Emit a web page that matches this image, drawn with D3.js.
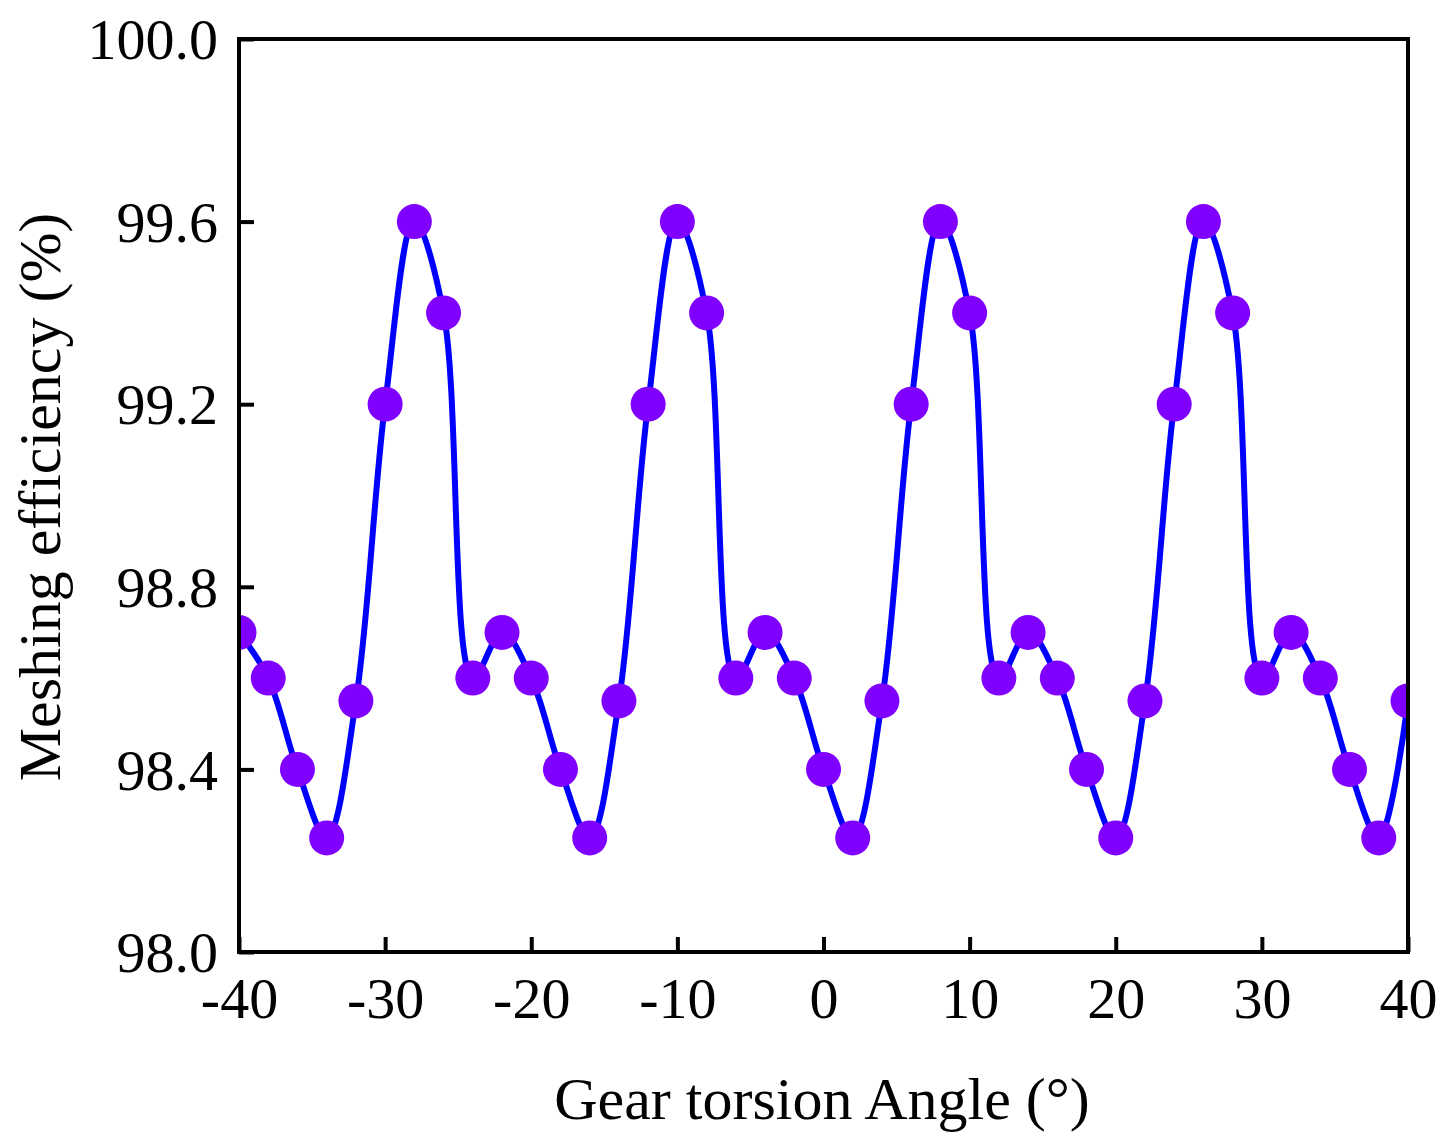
<!DOCTYPE html>
<html><head><meta charset="utf-8">
<script src="https://cdn.jsdelivr.net/npm/d3@7"></script>
<style>body{margin:0;background:#fff}svg{display:block}</style>
</head><body>
<svg id="c" width="1455" height="1132"></svg>
<script>
const angles = [-40,-38,-36,-34,-32,-30,-28,-26,-24,-22,-20,-18,-16,-14,-12,-10,-8,-6,-4,-2,0,2,4,6,8,10,12,14,16,18,20,22,24,26,28,30,32,34,36,38,40];
const efficiency = [98.7,98.6,98.4,98.25,98.55,99.2,99.6,99.4,98.6,98.7,98.6,98.4,98.25,98.55,99.2,99.6,99.4,98.6,98.7,98.6,98.4,98.25,98.55,99.2,99.6,99.4,98.6,98.7,98.6,98.4,98.25,98.55,99.2,99.6,99.4,98.6,98.7,98.6,98.4,98.25,98.55];
const xTicks = [-40,-30,-20,-10,0,10,20,30,40];
const xTickLabels = ["-40","-30","-20","-10","0","10","20","30","40"];
const yTicks = [98.0,98.4,98.8,99.2,99.6,100.0];
const yTickLabels = ["98.0","98.4","98.8","99.2","99.6","100.0"];

const svg = d3.select("#c");
const L=239, R=1408, T=39, B=952;
const x = d3.scaleLinear().domain([-40,40]).range([L,R]);
const y = d3.scaleLinear().domain([98,100]).range([B,T]);
const font = "'Liberation Serif','Times New Roman',serif";

svg.append("defs").append("clipPath").attr("id","clip")
  .append("rect").attr("x",L).attr("y",T).attr("width",R-L).attr("height",B-T);

const data = angles.map((a,i)=>({a, v:efficiency[i]}));
const g = svg.append("g").attr("clip-path","url(#clip)");
g.append("path").datum(data)
  .attr("d", d3.line().x(d=>x(d.a)).y(d=>y(d.v)).curve(d3.curveCatmullRom.alpha(0.5)))
  .attr("fill","none").attr("stroke","#0000ff").attr("stroke-width",6);
g.selectAll("circle").data(data).join("circle")
  .attr("cx",d=>x(d.a)).attr("cy",d=>y(d.v)).attr("r",17.5).attr("fill","#8000ff");

// axes
const xAxis = svg.append("g").attr("transform",`translate(0,${B})`)
  .call(d3.axisBottom(x).tickValues(xTicks).tickSizeInner(-15).tickSizeOuter(0).tickPadding(25)
    .tickFormat((d,i)=>xTickLabels[i]));
const yAxis = svg.append("g").attr("transform",`translate(${L},0)`)
  .call(d3.axisLeft(y).tickValues(yTicks).tickSizeInner(-15).tickSizeOuter(0).tickPadding(21)
    .tickFormat((d,i)=>yTickLabels[i]));
[xAxis,yAxis].forEach(a=>{
  a.select(".domain").remove();
  a.selectAll(".tick line").attr("stroke","#000").attr("stroke-width",4);
  a.selectAll(".tick text").attr("font-family",font).attr("font-size",58).attr("fill","#000");
});
xAxis.selectAll(".tick text").attr("dy","0.71em");
yAxis.selectAll(".tick text").attr("dy","0.34em");

// frame
svg.append("rect").attr("x",L).attr("y",T).attr("width",R-L).attr("height",B-T)
  .attr("fill","none").attr("stroke","#000").attr("stroke-width",4);

svg.append("text").attr("x",822).attr("y",1119).attr("text-anchor","middle")
  .attr("font-family",font).attr("font-size",60).attr("fill","#000").text("Gear torsion Angle (°)");
svg.append("text").attr("transform",`translate(60,497) rotate(-90)`).attr("text-anchor","middle")
  .attr("font-family",font).attr("font-size",60).attr("fill","#000").text("Meshing efficiency (%)");
</script>
</body></html>
